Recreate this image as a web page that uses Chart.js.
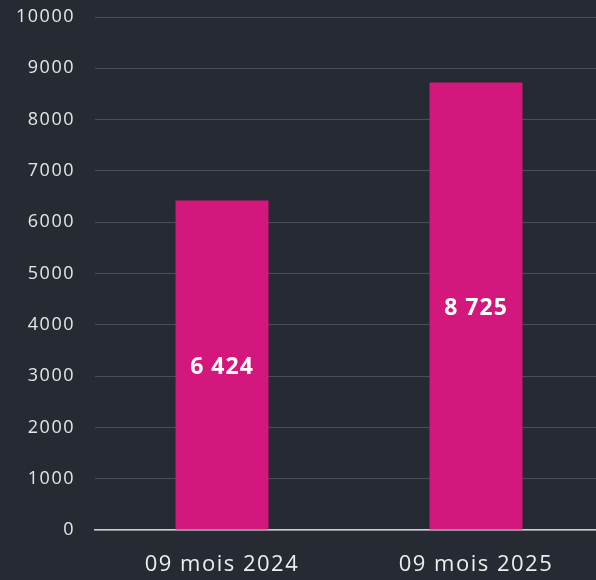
<!DOCTYPE html>
<html><head><meta charset="utf-8">
<script src="https://cdn.jsdelivr.net/npm/chart.js@4/dist/chart.umd.min.js"></script>
<style>
html,body{margin:0;padding:0;background:#262a33;overflow:hidden;}
#wrap{width:603px;height:580px;position:relative;}
</style></head>
<body><div id="wrap"><canvas id="c"></canvas></div>
<script>
const categories = ["09 mois 2024", "09 mois 2025"];
const values = [6424, 8725];
const yTicks = [0,1000,2000,3000,4000,5000,6000,7000,8000,9000,10000];

const fmt = v => String(v).replace(/\B(?=(\d{3})+(?!\d))/g, " ");

const spacingPlugin = {
  id: 'spacing',
  beforeDraw(chart) { chart.ctx.letterSpacing = '1.5px'; }
};

const labelPlugin = {
  id: 'barLabels',
  afterDatasetsDraw(chart) {
    const ctx = chart.ctx;
    const meta = chart.getDatasetMeta(0);
    ctx.save();
    ctx.letterSpacing = '1px';
    ctx.fillStyle = '#ffffff';
    ctx.font = 'bold 23px "Open Sans", sans-serif';
    ctx.textAlign = 'center';
    ctx.textBaseline = 'middle';
    meta.data.forEach((bar, i) => {
      const y = (bar.y + bar.base) / 2 + 2;
      ctx.fillText(fmt(values[i]), bar.x, y);
    });
    ctx.restore();
  }
};

new Chart(document.getElementById('c'), {
  type: 'bar',
  data: {
    labels: categories,
    datasets: [{
      data: values,
      backgroundColor: '#d4177d',
      barPercentage: 0.366,
      categoryPercentage: 1.0
    }]
  },
  options: {
    responsive: true,
    maintainAspectRatio: false,
    animation: false,
    layout: { padding: { top: 17, right: 0, left: 0, bottom: 0 } },
    plugins: { legend: { display: false }, tooltip: { enabled: false } },
    scales: {
      x: {
        afterFit: (axis) => { axis.height = 50; axis.paddingLeft = 0; axis.paddingRight = 0; },
        grid: { display: false, drawTicks: false },
        border: { display: true, color: '#d0d0d0', width: 1.5 },
        ticks: { color: '#eeeeee', font: { family: '"Open Sans", sans-serif', size: 22 }, padding: 22 }
      },
      y: {
        min: 0, max: 10000,
        afterBuildTicks: (axis) => { axis.ticks = yTicks.map(v => ({ value: v })); },
        afterFit: (axis) => { axis.width = 95; axis.paddingTop = 0; axis.paddingBottom = 0; },
        grid: { color: '#4a4e58', drawTicks: false, lineWidth: 1 },
        border: { display: false },
        ticks: { color: '#e6e6e6', font: { family: '"Open Sans", sans-serif', size: 18 }, padding: 20,
                 callback: (v) => String(v) }
      }
    }
  },
  plugins: [spacingPlugin, labelPlugin]
});
</script></body></html>
